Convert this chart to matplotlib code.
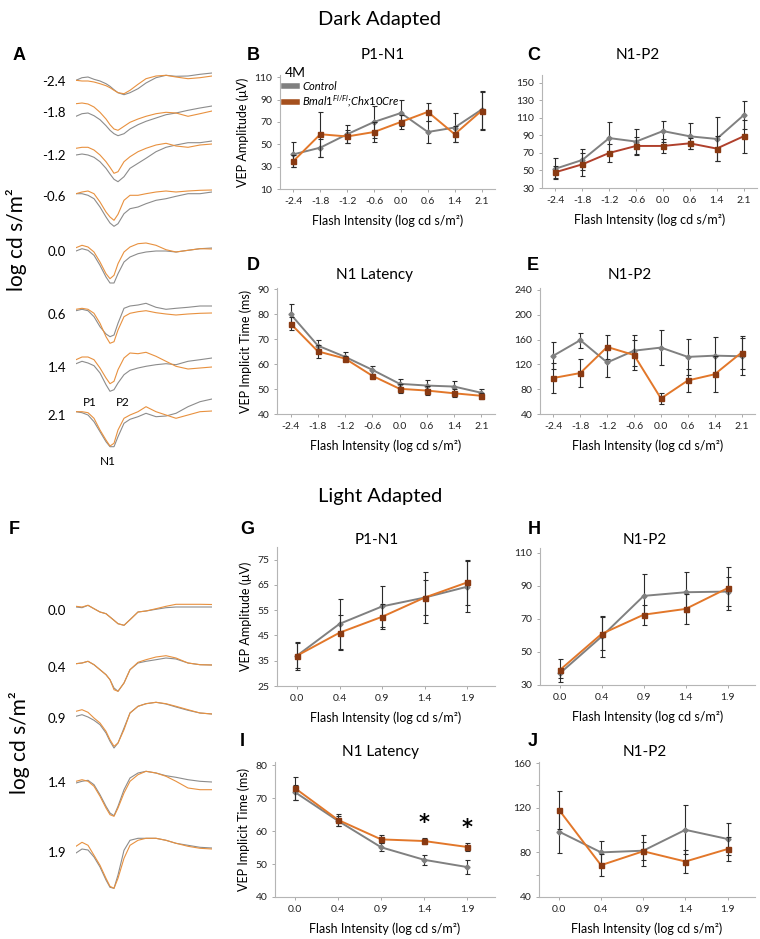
import numpy as np
import matplotlib
matplotlib.use("Agg")
import matplotlib.pyplot as plt
from matplotlib.lines import Line2D

# Fonts: humanist sans for everything, italic mathtext for the genotype label
plt.rcParams['font.family'] = ['Lato', 'DejaVu Sans']
plt.rcParams['mathtext.fontset'] = 'custom'
plt.rcParams['mathtext.rm'] = 'Lato'
plt.rcParams['mathtext.it'] = 'Lato:italic'

W, H = 760, 939

# ---------------- data ----------------
dark_x = ['-2.4', '-1.8', '-1.2', '-0.6', '0.0', '0.6', '1.4', '2.1']
light_x = ['0.0', '0.4', '0.9', '1.4', '1.9']

# B: dark P1-N1 amplitude (uV)
b_ctrl = [41, 47, 59, 70, 78, 61, 65, 81]
b_ctrl_err = [11, 8, 8, 14, 12, 10, 13, 17]
b_cre = [35, 59, 57, 61, 70, 79, 59, 80]
b_cre_err = [5, 20, 6, 9, 6, 8, 7, 17]

# C: dark N1-P2 amplitude (uV)
c_ctrl = [52, 62, 87, 83, 95, 89, 86, 113]
c_ctrl_err = [12, 12, 18, 14, 12, 15, 25, 16]
c_cre = [48, 57, 70, 78, 78, 81, 75, 89]
c_cre_err = [7, 13, 10, 10, 8, 6, 14, 19]

# D: dark N1 latency (ms)
d_ctrl = [80, 67.4, 62.9, 57.7, 52.1, 51.4, 51, 48.5]
d_ctrl_err = [4.2, 2.4, 1.8, 1.7, 1.9, 2.3, 2.4, 1.5]
d_cre = [76.2, 65.1, 62.2, 55.3, 50.1, 49.4, 48.3, 47.3]
d_cre_err = [2.6, 2.5, 1.1, 0.9, 1.8, 1.7, 1.6, 1.2]

# E: dark N1-P2 implicit time (ms)
e_ctrl = [134, 159, 123, 142, 147, 132, 134, 133]
e_ctrl_err = [22, 12, 23, 25, 28, 29, 30, 30]
e_cre = [98, 106, 148, 135, 65, 94, 104, 139]
e_cre_err = [24, 23, 19, 24, 9, 19, 29, 26]

# G: light P1-N1 amplitude (uV)
g_ctrl = [37, 49.6, 56.5, 60, 64.3]
g_ctrl_err = [5.5, 10, 8, 10, 10]
g_cre = [37, 46.1, 52.4, 60, 66]
g_cre_err = [5, 7, 5, 7, 8.8]

# H: light N1-P2 amplitude (uV)
h_ctrl = [37, 59.4, 84, 86.2, 86.6]
h_ctrl_err = [3, 12.5, 13, 12, 9]
h_cre = [39, 61, 72.6, 76.1, 88.7]
h_cre_err = [7, 10, 6, 9, 13]

# I: light N1 latency (ms)
i_ctrl = [71.8, 63.1, 55.1, 51.3, 49.1]
i_ctrl_err = [2.3, 1.5, 1.2, 1.6, 2]
i_cre = [73, 63.4, 57.5, 57, 55.2]
i_cre_err = [3.4, 1.8, 1.2, 0.9, 1.1]
i_signif = [False, False, False, True, True]

# J: light N1-P2 implicit time (ms)
j_ctrl = [98.7, 80, 81.5, 100.2, 92]
j_ctrl_err = [19, 10, 14, 22, 14]
j_cre = [118.3, 68.5, 81, 71.8, 83]
j_cre_err = [17, 10, 8, 10, 11]

# A / F: averaged VEP traces, amplitude (arbitrary units) at these times (ms)
trace_t = [0, 15, 30, 45, 60, 75, 85, 95, 105, 120, 135, 155, 175, 200, 225, 250, 280, 310, 340]

dark_ctrl_traces = [
    [1.7, 4.3, 5, 2.7, 1, -1.7, -4.3, -7.7, -10.7, -12.7, -10.7, -6.7, -1, 4.3, 6.7, 5.7, 6, 7.7, 9],
    [-3.3, -0.7, 0, -2.7, -6.7, -12.7, -17.3, -20.7, -22.7, -20.7, -16, -11.7, -8.3, -5, -1.7, 0, 2.7, 5, 7],
    [1, 2, 1, -1.3, -5.7, -12.3, -18, -23.3, -25.7, -20.7, -12.3, -7.3, -2.3, 4.3, 8.7, 11, 13.3, 13.3, 15],
    [3.3, 3.3, 1.7, -1.7, -10, -20, -26, -29.3, -26.7, -16.7, -11.7, -10, -6.7, -3.3, -1.7, 0.7, 3.3, 3.3, 5],
    [1, 3.3, 1.7, -3.3, -13.3, -25, -31, -31, -21.7, -10, -5, -1.7, 0, 1, 1, 0, 1.7, 3.3, 4],
    [4.3, 5.7, 4.3, -1.7, -11.7, -19, -21.7, -20, -8.3, 6.7, 9, 10, 11.7, 7.7, 5.7, 6.7, 7.7, 9, 9],
    [4.3, 6.7, 5, 2.3, -5, -16.7, -23.3, -21.7, -15, -6.7, -2.3, 0, 1.7, 3.3, 4.3, 3.3, 6.7, 8.3, 10],
    [4.3, 3.3, 1, -5.7, -15.7, -25.7, -30.7, -30.7, -20.7, -7.3, -3.3, -0.7, 2.7, -0.7, 0, 2.7, 9.3, 14.3, 17],
]
dark_cre_traces = [
    [1.7, 1, 1, 0, -1.7, -3.7, -5.7, -8.3, -10.7, -11.7, -8.3, -2.3, 3.3, 6, 6.7, 5, 3.3, 4.3, 6],
    [9.3, 10, 9, 6, 0.7, -6, -11.7, -16, -17.3, -13.3, -9.3, -6, -3.3, -0.7, 0.7, 0, -3.3, -0.7, 2],
    [7.7, 8.7, 8.7, 6, 1, -5.7, -11.3, -17.3, -15.7, -5.7, -0.7, 4.3, 7.7, 11, 12.7, 10, 8.7, 11, 12],
    [3.3, 5, 6, 3.3, -5, -15, -20, -23.3, -17.3, -3.3, 1.7, 1.7, 3.3, 5, 6, 5, 6, 6.7, 7],
    [4.3, 6.7, 5, 0, -10, -21.7, -26.7, -23.3, -11.7, 0, 5, 8.3, 9, 6.7, 2.3, 0, 1.7, 3.3, 3],
    [5.7, 6.7, 5.7, 1.7, -8.3, -21.7, -28.3, -26.7, -15, -1.7, 1.7, 3.3, 4.3, 2.3, 1, 0, 1, 1.7, 2],
    [8.3, 11, 11, 8.3, 0, -10, -15.7, -13.3, -1.7, 10, 15, 14.3, 15.7, 11.7, 6.7, 1.7, -1, 0, 1],
    [4.3, 4.3, 3.3, -2.3, -14, -24, -30, -27.3, -14, -2.3, 1, 4.3, 9.3, 4.3, 1, -2.3, 1, 4.3, 5],
]
light_ctrl_traces = [
    [4, 3.3, 5.7, 2.3, -1, -2.7, -6, -9.3, -12.7, -14.3, -8.7, -1, 0, 1.7, 3.3, 4, 4, 4, 4],
    [4.3, 5, 6.7, 3.3, -1.7, -6.7, -11.7, -20, -23.3, -15, -1.7, 5, 6.7, 8.3, 10, 9, 5, 3.3, 3],
    [2.7, 4.3, 2, -1.3, -5.7, -14, -22.3, -29, -24, -9, 6, 12.7, 15.3, 16.7, 15, 12, 8.7, 6, 5],
    [0, 1.7, 2.7, -1.7, -11.7, -23.3, -30, -32.7, -23.3, -6.7, 5, 10, 11.7, 10, 7.3, 5.7, 3.3, 1.7, 1],
    [0, 4, 3, -4, -14, -27, -34.3, -35.3, -22, 2.7, 12.7, 14.7, 14.7, 14.7, 12.7, 9.7, 7.7, 5.7, 5],
]
light_cre_traces = [
    [4.7, 4, 5.7, 2.3, -1, -2.7, -6, -9.3, -12.7, -14.3, -8.7, -1, 0, 2.3, 4.7, 6.7, 6.7, 6.7, 6.5],
    [4.3, 5, 6.7, 3.3, -1.7, -6.7, -11.7, -21.7, -23.3, -15, -1.7, 5.7, 8.3, 11, 12.3, 10, 5, 3.3, 3],
    [7.7, 9.3, 6.7, 1, -4, -12.3, -20.7, -27.3, -24, -10.7, 6, 12.7, 15.3, 16.7, 15.3, 12.7, 9.3, 6, 5],
    [1.7, 3.3, 1.7, -3.3, -13.3, -25, -31.7, -33.3, -25, -10, 1.7, 8.3, 11.7, 10, 6.7, 1.7, -5, -6.7, -6.7],
    [6.7, 10.7, 7.7, -2.3, -12.3, -25.3, -33.3, -35.3, -25.3, -5.3, 7.7, 12.7, 14.7, 14.7, 12.7, 9.7, 6.7, 4.7, 4],
]

# ---------------- style / layout ----------------
GRAY = '#808080'
ORANGE = '#e2772a'
RED = '#b0402c'
BROWN = '#8a3a12'
ERR = '#2b2b2b'
TR_GRAY = '#8c8c8c'
TR_ORANGE = '#e8913f'

dark_rows_y = [82, 113, 156, 197, 252, 315, 368, 416]
light_rows_y = [611, 668, 719, 783, 853]

fig = plt.figure(figsize=(W / 100, H / 100), dpi=100)


def px_axes(l, t, r, b):
    return fig.add_axes([l / W, 1 - b / H, (r - l) / W, (b - t) / H])


def ftext(x, y, s, **kw):
    fig.text(x / W, 1 - y / H, s, **kw)


def draw_panel(ax, labels, ctrl, ctrl_err, cre, cre_err, ylim, yticks, xlim, cre_color=ORANGE):
    x = np.arange(len(labels))
    ax.errorbar(x, ctrl, yerr=ctrl_err, color=GRAY, lw=1.4, marker='D', ms=2.6,
                mfc=GRAY, mec=GRAY, ecolor=ERR, elinewidth=0.8, capsize=1.8, capthick=0.8, zorder=2)
    ax.errorbar(x, cre, yerr=cre_err, color=cre_color, lw=1.4, marker='s', ms=3.6,
                mfc=BROWN, mec=BROWN, ecolor=ERR, elinewidth=0.8, capsize=1.8, capthick=0.8, zorder=3)
    ax.set_xticks(x)
    ax.set_xticklabels(labels)
    ax.set_yticks(yticks)
    ax.set_xlim(*xlim)
    ax.set_ylim(*ylim)
    for s in ['top', 'right']:
        ax.spines[s].set_visible(False)
    for s in ['left', 'bottom']:
        ax.spines[s].set_color('#b5b5b5')
        ax.spines[s].set_linewidth(0.8)
    ax.tick_params(length=2.5, width=0.7, color='#aaaaaa', labelsize=7.5, labelcolor='#222222', pad=3)


def xlab(ax):
    ax.set_xlabel('Flash Intensity (log cd s/m²)', fontsize=9, labelpad=6)


# B
axB = px_axes(280, 75, 495, 189)
draw_panel(axB, dark_x, b_ctrl, b_ctrl_err, b_cre, b_cre_err, (10, 112), range(10, 111, 20), (-0.5, 7.5))
axB.set_ylabel('VEP Amplitude (μV)', fontsize=9, labelpad=4)
xlab(axB)
handles = [Line2D([], [], color=GRAY, lw=4), Line2D([], [], color='#a5501e', lw=4)]
leg = axB.legend(handles, ['Control', r'$Bmal1^{Fl/Fl}$;$Chx10Cre$'], loc='upper left',
                 bbox_to_anchor=(0.02, 1.07), frameon=False, fontsize=8, title='4M',
                 title_fontsize=10, handlelength=1.1, handletextpad=0.5, labelspacing=0.15,
                 borderpad=0, borderaxespad=0, alignment='left')
for t in leg.get_texts():
    t.set_style('italic')

# C
axC = px_axes(542, 75, 757, 188)
draw_panel(axC, dark_x, c_ctrl, c_ctrl_err, c_cre, c_cre_err, (30, 159), range(30, 151, 20), (-0.5, 7.5), RED)
xlab(axC)

# D
axD = px_axes(277, 288, 495, 414)
draw_panel(axD, dark_x, d_ctrl, d_ctrl_err, d_cre, d_cre_err, (40, 90.5), range(40, 91, 10), (-0.5, 7.5))
axD.set_ylabel('VEP Implicit Time (ms)', fontsize=9, labelpad=4)
xlab(axD)

# E
axE = px_axes(540, 288, 755, 414)
draw_panel(axE, dark_x, e_ctrl, e_ctrl_err, e_cre, e_cre_err, (40, 243), range(40, 241, 40), (-0.5, 7.5))
xlab(axE)

# G
axG = px_axes(277, 547, 495, 686)
draw_panel(axG, light_x, g_ctrl, g_ctrl_err, g_cre, g_cre_err, (25, 80), range(25, 76, 10), (-0.47, 4.65))
axG.set_ylabel('VEP Amplitude (μV)', fontsize=9, labelpad=4)
xlab(axG)

# H
axH = px_axes(540, 548, 755, 685)
draw_panel(axH, light_x, h_ctrl, h_ctrl_err, h_cre, h_cre_err, (30, 113), range(30, 111, 20), (-0.47, 4.65))
xlab(axH)

# I
axI = px_axes(275, 762, 495, 897)
draw_panel(axI, light_x, i_ctrl, i_ctrl_err, i_cre, i_cre_err, (40, 81), range(40, 81, 10), (-0.47, 4.65))
axI.set_ylabel('VEP Implicit Time (ms)', fontsize=9, labelpad=4)
xlab(axI)
for k, sig in enumerate(i_signif):
    if sig:
        axI.annotate('*', (k, i_cre[k] + i_cre_err[k]), xytext=(0, 4), textcoords='offset points',
                     ha='center', va='bottom', fontsize=15, fontweight='bold', family='DejaVu Sans')

# J
axJ = px_axes(539, 762, 755, 897)
draw_panel(axJ, light_x, j_ctrl, j_ctrl_err, j_cre, j_cre_err, (40, 161), range(40, 161, 40), (-0.47, 4.65))
axJ.set_yticks(range(60, 161, 40), minor=True)
axJ.tick_params(which='minor', length=2.5, width=0.7, color='#aaaaaa')
xlab(axJ)

# panel titles
for x, y, s in [(383, 55, 'P1-N1'), (638, 55, 'N1-P2'), (375, 275, 'N1 Latency'), (630, 275, 'N1-P2'),
                (377, 540, 'P1-N1'), (645, 540, 'N1-P2'), (380, 752, 'N1 Latency'), (645, 752, 'N1-P2')]:
    ftext(x, y, s, fontsize=11, ha='center', va='center')

ftext(380, 20, 'Dark Adapted', fontsize=14.5, ha='center', va='center')
ftext(380, 497, 'Light Adapted', fontsize=14.5, ha='center', va='center')

for x, y, s in [(13, 55, 'A'), (247, 55, 'B'), (527, 55, 'C'), (247, 266, 'D'), (527, 266, 'E'),
                (9, 530, 'F'), (240, 530, 'G'), (528, 530, 'H'), (240, 742, 'I'), (528, 742, 'J')]:
    ftext(x, y, s, fontsize=13, fontweight='bold', family='Liberation Sans', ha='left', va='center')

# A / F traces
axT = fig.add_axes([76 / W, 0, (212 - 76) / W, 1])
axT.set_xlim(0, 340)
axT.set_ylim(H, 0)
axT.axis('off')
for row_y, gtr, otr in zip(dark_rows_y, dark_ctrl_traces, dark_cre_traces):
    axT.plot(trace_t, row_y - np.array(gtr), color=TR_GRAY, lw=0.8)
    axT.plot(trace_t, row_y - np.array(otr), color=TR_ORANGE, lw=0.8)
for row_y, gtr, otr in zip(light_rows_y, light_ctrl_traces, light_cre_traces):
    axT.plot(trace_t, row_y - np.array(gtr), color=TR_GRAY, lw=0.8)
    axT.plot(trace_t, row_y - np.array(otr), color=TR_ORANGE, lw=0.8)

for lab, row_y in zip(dark_x, dark_rows_y):
    ftext(66, row_y, lab, fontsize=9.5, ha='right', va='center')
for lab, row_y in zip(light_x, light_rows_y):
    ftext(66, row_y, lab, fontsize=9.5, ha='right', va='center')

ftext(17, 240, 'log cd s/m²', fontsize=15, rotation=90, ha='center', va='center')
ftext(20, 743, 'log cd s/m²', fontsize=15, rotation=90, ha='center', va='center')
ftext(90, 402, 'P1', fontsize=8.5, ha='center', va='center')
ftext(123, 402, 'P2', fontsize=8.5, ha='center', va='center')
ftext(108, 462, 'N1', fontsize=8.5, ha='center', va='center')

fig.savefig('out.png', dpi=100)
